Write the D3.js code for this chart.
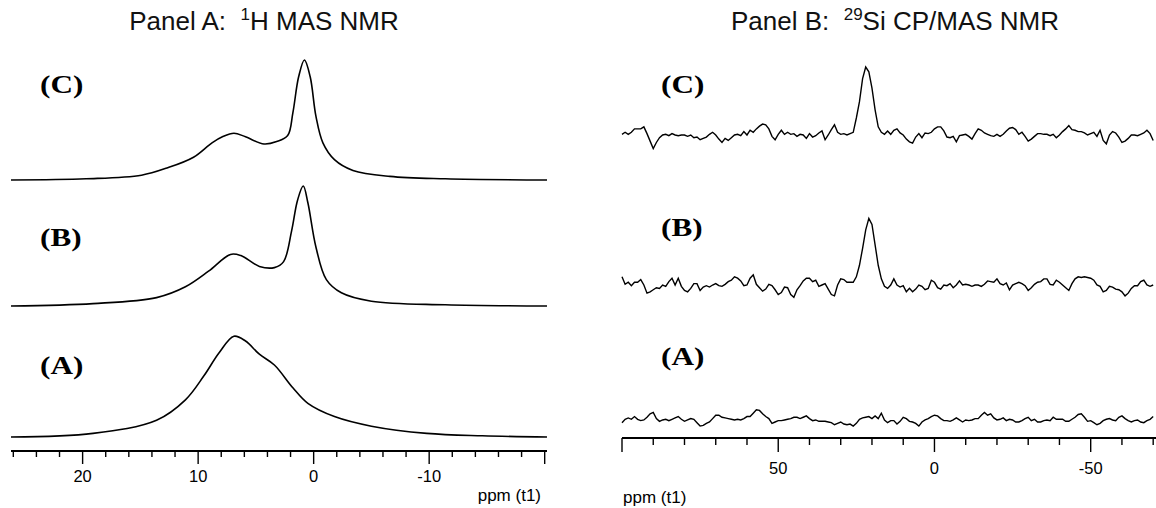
<!DOCTYPE html>
<html><head><meta charset="utf-8">
<script src="https://cdn.jsdelivr.net/npm/d3@7"></script>
<style>body{margin:0;background:#fff} svg{display:block} text{white-space:pre}</style>
</head><body><svg id="c" width="1156" height="508"></svg>
<script>
// ---------- Panel A: 1H MAS NMR (ppm, relative intensity) ----------
const hC_ppm = [26.2,19.7,14.9,12.7,10.4,8.8,7.9,6.9,5.9,4.3,3.2,2.25,1.8,1.3,0.8,0.3,-0.2,-0.8,-1.8,-3.4,-6.6,-11.4,-20.2];
const hC_int = [0,1,4,10,19,31,36,39,36,30,32,37,56,86,100,86,53,31,17,8,3,1,0];
const hB_ppm = [26.2,19.1,13.6,11.1,9.1,7.2,6.3,4.7,3.4,2.6,1.9,1.4,0.9,0.5,-0.2,-1.1,-2.4,-5.0,-11.4,-20.2];
const hB_int = [0,2,7,16,29,43,42,33,32,37,63,88,100,86,49,22,11,4,1,0];
const hA_ppm = [26.2,19.1,13.6,11.1,9.5,8.2,6.9,5.9,4.7,3.4,1.8,0.5,-1.8,-5.0,-9.8,-14.6,-20.2];
const hA_int = [0,3,14,31,51,70,84,80,69,60,41,28,17,9,3,1,0];
const hTicksMajor = [20,10,0,-10];
const hTicksAll = [26,24,22,20,18,16,14,12,10,8,6,4,2,0,-2,-4,-6,-8,-10,-12,-14,-16,-18,-20];

// ---------- Panel B: 29Si CP/MAS NMR (1 ppm grid from 100 to -70) ----------
const siPpmStart = 100, siPpmEnd = -70;
const siC = [1,4,1,4,9,9,9,12,2,-9, -20,-11,-4,0,1,-1,2,0,-1,0, 0,-2,0,-4,-3,-7,-5,-3,1,4,
 0,-6,-11,-5,-8,-4,0,1,-1,5, 0,7,4,9,13,16,15,9,-2,-7, 1,7,1,4,1,2,-2,1,0,-5,
 2,-3,-1,3,6,-7,0,8,15,4, 1,2,0,2,4,25,49,83,100,93, 69,37,12,4,1,6,1,7,9,3,
 0,-6,-10,-12,-3,2,-4,3,2,4, 9,12,12,6,-3,-4,-2,-10,-1,0, 1,-2,-6,2,9,7,3,1,-1,-2,
 1,-2,1,6,10,11,8,1,4,-2, -9,-6,-2,2,2,1,1,-1,1,-4, 0,5,9,14,8,7,5,5,3,0,
 2,4,-2,7,-8,-13,0,5,3,-3, -11,-9,-5,0,0,-1,1,3,7,2, -8];
const siB = [12,1,4,-1,4,4,8,0,-12,-10, -7,-4,-5,0,-2,5,10,0,10,-2, -8,-10,-5,2,2,-8,-3,-1,-3,0,
 2,-1,-2,1,5,7,12,10,6,-1, 0,10,15,1,-4,-9,-6,1,-1,-7, -14,-11,-3,-4,-14,-18,-7,-1,6,10,
 10,5,7,-2,0,2,-6,-14,-16,0, 9,8,4,4,4,12,29,54,81,98, 89,59,29,9,-2,-5,0,9,0,-3,
 -1,-10,-5,-10,-6,0,-2,-7,-5,7, 4,-4,-6,0,-1,2,-4,0,6,0, 1,0,-2,0,0,-2,1,6,5,4,
 9,2,0,3,-7,0,2,4,2,-1, -8,-4,1,4,5,9,9,1,0,7, 4,0,-4,-8,2,9,12,11,12,11,
 10,7,0,-2,-10,-8,-2,-3,-6,-7, -10,-16,-12,-5,-1,-1,5,7,0,-2, 0];
const siA = [-1,4,6,4,8,4,2,3,7,12, 14,5,1,3,4,2,4,6,8,4, 1,3,5,4,-1,-6,-5,-2,0,5,
 10,10,7,6,5,4,3,4,3,5, 8,8,13,18,17,12,8,5,-2,0, 2,2,3,4,5,7,7,5,7,9,
 5,2,3,1,1,1,0,-1,-4,-2, 0,-3,-4,-3,-6,-2,4,6,7,8, 5,9,5,13,3,-1,2,2,-3,1,
 7,5,1,0,-2,-6,0,3,5,8, 10,9,5,2,2,1,3,6,3,0, 3,2,3,5,5,10,14,10,12,6,
 3,4,6,2,4,3,0,0,2,5, 7,2,4,0,0,2,3,2,7,4, 4,4,1,1,4,7,11,12,7,1,
 2,-1,-4,-2,2,4,5,3,2,7, 9,5,2,0,2,3,0,-1,2,4, 8];
const siTicksMajor = [50,0,-50];
const siTicksAll = [100,90,80,70,60,50,40,30,20,10,0,-10,-20,-30,-40,-50,-60,-70];

const rowLabels = ['(C)','(B)','(A)'];
const titleA = ['Panel A:  ', '1', 'H MAS NMR'];
const titleB = ['Panel B:  ', '29', 'Si CP/MAS NMR'];
const axisLabel = 'ppm (t1)';

// ---------- drawing ----------
const svg = d3.select('#c');
const sans = "'Liberation Sans', Arial, Helvetica, sans-serif";
const serif = "'Liberation Serif', 'Times New Roman', serif";

function title(parts, cx) {
  const t = svg.append('text').attr('x', cx).attr('y', 30).attr('text-anchor','middle')
    .style('font-family', sans).style('font-size','26px').attr('fill','#111');
  t.append('tspan').text(parts[0]);
  t.append('tspan').attr('dy',-10).style('font-size','17px').text(parts[1]);
  t.append('tspan').attr('dy',10).text(parts[2]);
}
title(titleA, 264);
title(titleB, 895);

function rowLabel(txt, x, y) {
  svg.append('g').attr('transform', `translate(${x},${y}) scale(1.2,1)`)
    .append('text').text(txt)
    .style('font-family', serif).style('font-weight','bold').style('font-size','26px');
}

// Panel A
const xA = d3.scaleLinear().domain([26.2, -20.2]).range([11, 547]);
const yA = d3.scaleLinear().domain([0, 100]).range([0, -120]);
const rowsA = [
  {ppm: hC_ppm, v: hC_int, base: 180, ly: 93},
  {ppm: hB_ppm, v: hB_int, base: 306, ly: 246},
  {ppm: hA_ppm, v: hA_int, base: 437, ly: 374}
];
rowsA.forEach((r, i) => {
  const pts = r.ppm.map((p, k) => [p, r.v[k]]);
  const line = d3.line().x(d => xA(d[0])).y(d => r.base + yA(d[1])).curve(d3.curveCatmullRom.alpha(0.5));
  svg.append('path').attr('d', line(pts)).attr('fill','none').attr('stroke','#000').attr('stroke-width',1.6);
  rowLabel(rowLabels[i], 40, r.ly);
});
const axA = svg.append('g').attr('transform','translate(0,451)');
axA.append('line').attr('x1', xA.range()[0]).attr('x2', xA.range()[1]).attr('stroke','#000').attr('stroke-width',2);
axA.selectAll('line.t').data(hTicksAll).join('line').attr('class','t')
  .attr('x1', d => xA(d)).attr('x2', d => xA(d)).attr('y1', 0)
  .attr('y2', d => (hTicksMajor.includes(d) || d === -20) ? 13 : 6)
  .attr('stroke','#000').attr('stroke-width',1.4);
axA.selectAll('text').data(hTicksMajor).join('text')
  .attr('x', d => xA(d)).attr('y', 31).attr('text-anchor','middle')
  .style('font-family', sans).style('font-size','16.5px').text(d => d);
svg.append('text').attr('x', 541).attr('y', 501).attr('text-anchor','end')
  .style('font-family', sans).style('font-size','17px').text(axisLabel);

// Panel B
const siPpm = d3.range(siPpmStart, siPpmEnd - 0.5, -1);
const xB = d3.scaleLinear().domain([100, -70.9]).range([622, 1156]);
const yB = d3.scaleLinear().domain([0, 100]).range([0, -68]);
const rowsB = [
  {v: siC, base: 135, ly: 93},
  {v: siB, base: 285, ly: 236},
  {v: siA, base: 422, ly: 365}
];
rowsB.forEach((r, i) => {
  const line = d3.line().x((d, k) => xB(siPpm[k])).y(d => r.base + yB(d));
  svg.append('path').attr('d', line(r.v)).attr('fill','none').attr('stroke','#000').attr('stroke-width',1.4);
  rowLabel(rowLabels[i], 661, r.ly);
});
const axB = svg.append('g').attr('transform','translate(0,438)');
axB.append('line').attr('x1', xB.range()[0]).attr('x2', xB.range()[1]).attr('stroke','#000').attr('stroke-width',2);
axB.selectAll('line.t').data(siTicksAll).join('line').attr('class','t')
  .attr('x1', d => xB(d)).attr('x2', d => xB(d)).attr('y1', 0)
  .attr('y2', d => (siTicksMajor.includes(d) || d === 100) ? 14 : 7)
  .attr('stroke','#000').attr('stroke-width',1.4);
axB.selectAll('text').data(siTicksMajor).join('text')
  .attr('x', d => xB(d)).attr('y', 36).attr('text-anchor','middle')
  .style('font-family', sans).style('font-size','16.5px').text(d => d);
svg.append('text').attr('x', 623).attr('y', 503).attr('text-anchor','start')
  .style('font-family', sans).style('font-size','17px').text(axisLabel);
</script></body></html>
